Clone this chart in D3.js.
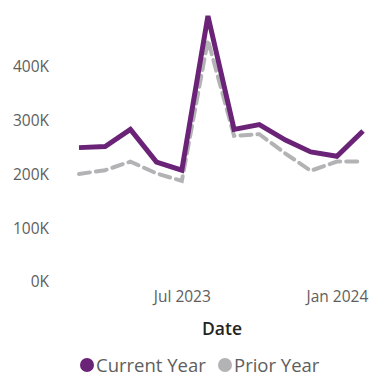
<!DOCTYPE html>
<html>
<head>
<meta charset="utf-8">
<script src="https://cdn.jsdelivr.net/npm/d3@7"></script>
<style>
  body { margin: 0; background: #fff; }
  svg text { font-family: "Open Sans", "Noto Sans", sans-serif; }
</style>
</head>
<body>
<div id="chart"></div>
<script>
// monthly values, Mar 2023 .. Feb 2024
const months = ["2023-03", "2023-04", "2023-05", "2023-06", "2023-07", "2023-08",
                "2023-09", "2023-10", "2023-11", "2023-12", "2024-01", "2024-02"];
const currentYear = [250000, 252000, 284000, 223000, 208000, 495000,
                     284000, 293000, 264000, 242000, 234000, 281000];
const priorYear = [201000, 208000, 224000, 202000, 188000, 450000,
                   272000, 275000, 239000, 207000, 224000, 224000];
const yTicks = [0, 100000, 200000, 300000, 400000];
const xTicks = ["2023-07", "2024-01"];

const width = 375, height = 379;
const parse = d3.timeParse("%Y-%m");
const dates = months.map(parse);

const svg = d3.select("#chart").append("svg")
  .attr("width", width)
  .attr("height", height);

const xScale = d3.scaleTime()
  .domain(d3.extent(dates))
  .range([79, 363]);
const yScale = d3.scaleLinear()
  .domain([0, 400000])
  .range([282, 67]);

// y axis
const yAxisG = svg.append("g")
  .attr("transform", "translate(52,0)")
  .call(d3.axisLeft(yScale).tickValues(yTicks).tickSize(0).tickPadding(3)
    .tickFormat(d => (d / 1000) + "K"));
yAxisG.select(".domain").remove();
yAxisG.selectAll("text")
  .style("font-size", "15.5px")
  .style("fill", "#605E5C");

// x axis
const xAxisG = svg.append("g")
  .attr("transform", "translate(0,289)")
  .call(d3.axisBottom(xScale).tickValues(xTicks.map(parse)).tickSize(0).tickPadding(2)
    .tickFormat(d3.timeFormat("%b %Y")));
xAxisG.select(".domain").remove();
xAxisG.selectAll("text")
  .style("font-size", "15.5px")
  .style("fill", "#605E5C");

// x axis title
svg.append("text")
  .attr("x", 222)
  .attr("y", 335)
  .attr("text-anchor", "middle")
  .style("font-size", "17.5px")
  .style("font-weight", "600")
  .style("fill", "#252423")
  .text("Date");

const line = d3.line()
  .x((d, i) => xScale(dates[i]))
  .y(d => yScale(d));

svg.append("path")
  .datum(priorYear)
  .attr("fill", "none")
  .attr("stroke", "#B3B3B5")
  .attr("stroke-width", 4)
  .attr("stroke-dasharray", "11,6")
  .attr("stroke-linecap", "round")
  .attr("d", line);

svg.append("path")
  .datum(currentYear)
  .attr("fill", "none")
  .attr("stroke", "#6B2378")
  .attr("stroke-width", 5)
  .attr("d", line);

// legend
const legend = [
  {name: "Current Year", color: "#6B2378", x: 87},
  {name: "Prior Year", color: "#B3B3B5", x: 225}
];
const legendG = svg.append("g").attr("transform", "translate(0,365)");
legend.forEach(item => {
  legendG.append("circle")
    .attr("cx", item.x)
    .attr("cy", 0)
    .attr("r", 7)
    .attr("fill", item.color);
  legendG.append("text")
    .attr("x", item.x + 9)
    .attr("y", 6.5)
    .style("font-size", "18.5px")
    .style("fill", "#605E5C")
    .text(item.name);
});
</script>
</body>
</html>
